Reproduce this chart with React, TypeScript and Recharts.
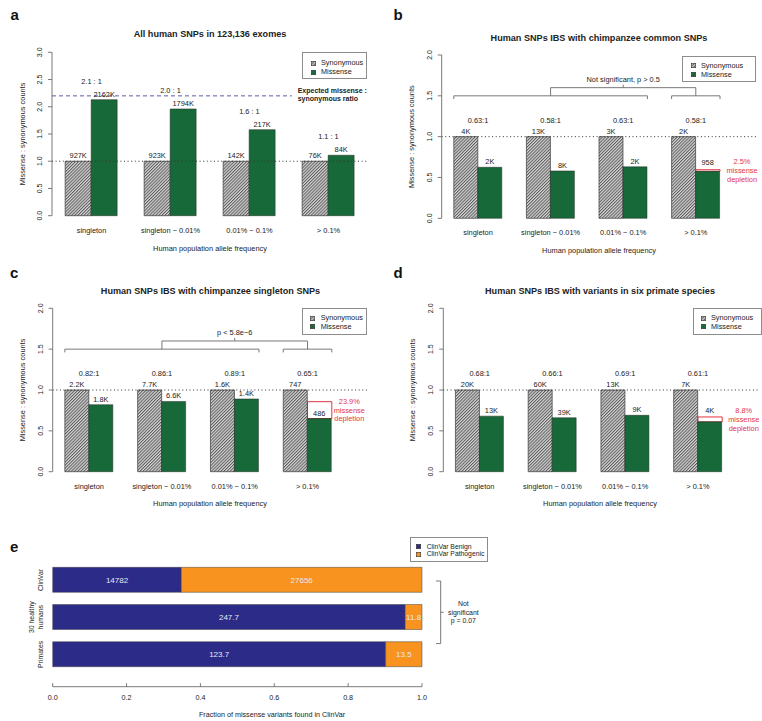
import React from 'react';
import {
  BarChart,
  Bar,
  XAxis,
  YAxis,
  ReferenceLine,
  ReferenceDot,
  ReferenceArea,
  LabelList,
  Legend,
} from 'recharts';

const FONT = '"Liberation Sans", Arial, Helvetica, sans-serif';
const INK = '#222';
const AXIS = '#6a6a6a';
const GREEN = '#18693a';
const RED = '#e3343f';
const NAVY = '#2c2b88';
const ORANGE = '#f7931e';
const HATCH = 'url(#synHatch)';

// shared categories for panels a-d
const freqBins = ['singleton', 'singleton ~ 0.01%', '0.01% ~ 0.1%', '> 0.1%'];
const synNorm = [1, 1, 1, 1];

// a: all human SNPs
const aMissense = [2.13, 1.96, 1.58, 1.11];
const aSynCounts = ['927K', '923K', '142K', '76K'];
const aMisCounts = ['2162K', '1794K', '217K', '84K'];
const aRatios = ['2.1 : 1', '2.0 : 1', '1.6 : 1', '1.1 : 1'];
const aExpected = 2.2;

// b: IBS with chimpanzee common SNPs
const bMissense = [0.625, 0.58, 0.63, 0.575];
const bSynCounts = ['4K', '13K', '3K', '2K'];
const bMisCounts = ['2K', '8K', '2K', '958'];
const bRatios = ['0.63:1', '0.58:1', '0.63:1', '0.58:1'];
const bExpectedTop = 0.595;
const bDepletion = ['2.5%', 'missense', 'depletion'];
const bTest = 'Not significant, p > 0.5';

// c: IBS with chimpanzee singleton SNPs
const cMissense = [0.82, 0.86, 0.89, 0.65];
const cSynCounts = ['2.2K', '7.7K', '1.6K', '747'];
const cMisCounts = ['1.8K', '6.6K', '1.4K', '486'];
const cRatios = ['0.82:1', '0.86:1', '0.89:1', '0.65:1'];
const cExpectedTop = 0.857;
const cDepletion = ['23.9%', 'missense', 'depletion'];
const cTest = 'p < 5.8e\u22126';

// d: IBS with variants in six primate species
const dMissense = [0.68, 0.66, 0.69, 0.61];
const dSynCounts = ['20K', '60K', '13K', '7K'];
const dMisCounts = ['13K', '39K', '9K', '4K'];
const dRatios = ['0.68:1', '0.66:1', '0.69:1', '0.61:1'];
const dExpectedTop = 0.67;
const dDepletion = ['8.8%', 'missense', 'depletion'];

// e: ClinVar fractions
const eGroups = ['ClinVar', '30 healthy\nhumans', 'Primates'];
const eBenign = [14782, 247.7, 123.7];
const ePathogenic = [27656, 11.8, 13.5];
const eBenignLabels = ['14782', '247.7', '123.7'];
const ePathLabels = ['27656', '11.8', '13.5'];
const eTicks = [0, 0.2, 0.4, 0.6, 0.8, 1];
const eTest = ['Not', 'significant', 'p = 0.07'];

const textAt =
  (lines: string[], o: { size: number; color?: string; weight?: any; anchor?: any; lh?: number }) =>
  (p: any) => {
    const lh = o.lh ?? o.size * 1.15;
    const first = -((lines.length - 1) * lh) / 2;
    return (
      <text
        x={p.cx}
        y={p.cy}
        textAnchor={o.anchor ?? 'middle'}
        fontFamily={FONT}
        fontSize={o.size}
        fontWeight={o.weight ?? 'normal'}
        fill={o.color ?? INK}
      >
        {lines.map((l, i) => (
          <tspan key={i} x={p.cx} y={p.cy + first + i * lh} dy="0.35em">
            {l}
          </tspan>
        ))}
      </text>
    );
  };

const boxOf = (p: any) => {
  const vb = p.viewBox || {};
  return {
    x: p.x ?? vb.x,
    y: p.y ?? vb.y,
    w: p.width ?? vb.width,
    h: p.height ?? vb.height,
  };
};

// value label above a bar; the last group may be lifted over the depletion box
const topLabel =
  (lastLift = 0) =>
  (p: any) => {
    const b = boxOf(p);
    const lift = p.index === 3 ? lastLift : 0;
    return (
      <text x={b.x + b.w / 2} y={b.y - 3 - lift} textAnchor="middle" fontFamily={FONT} fontSize={7.4} fill={INK}>
        {p.value}
      </text>
    );
  };

const centerLabel = (p: any) => {
  const b = boxOf(p);
  return (
    <text
      x={b.x + b.w / 2}
      y={b.y + b.h / 2}
      dy="0.35em"
      textAnchor="middle"
      fontFamily={FONT}
      fontSize={8}
      fill="#e9e9f6"
    >
      {p.value}
    </text>
  );
};

const CatTick = (p: any) => (
  <text x={p.x} y={p.y + 14.3} dy="0.35em" textAnchor="middle" fontFamily={FONT} fontSize={7.4} fill={INK}>
    {p.payload.value}
  </text>
);

const YTick = (p: any) => (
  <text
    transform={`translate(${p.x},${p.y}) rotate(-90)`}
    dy="0.35em"
    textAnchor="middle"
    fontFamily={FONT}
    fontSize={7}
    fill={INK}
  >
    {Number(p.payload.value).toFixed(1)}
  </text>
);

const ETick = (p: any) => (
  <g>
    <line x1={p.x} x2={p.x} y1={p.y} y2={p.y - 3.5} stroke={AXIS} strokeWidth={0.9} />
    <text x={p.x} y={p.y + 11} dy="0.35em" textAnchor="middle" fontFamily={FONT} fontSize={7.2} fill={INK}>
      {Number(p.payload.value).toFixed(1)}
    </text>
  </g>
);

const EYTick = (p: any) => {
  const lines = String(p.payload.value).split('\n');
  return (
    <g>
      {lines.map((l, i) => (
        <text
          key={i}
          transform={`translate(${p.x - (lines.length - 1 - i) * 9},${p.y}) rotate(-90)`}
          dy="0.35em"
          textAnchor="middle"
          fontFamily={FONT}
          fontSize={6.9}
          fill={INK}
        >
          {l}
        </text>
      ))}
    </g>
  );
};

const seg = (k: string, x1: number, y1: number, x2: number, y2: number, xId: any = 'n', yId: any = 0) => (
  <ReferenceLine
    key={k}
    xAxisId={xId}
    yAxisId={yId}
    segment={[
      { x: x1, y: y1 },
      { x: x2, y: y2 },
    ]}
    stroke={AXIS}
    strokeWidth={0.9}
    ifOverflow="visible"
  />
);

// horizontal bracket with both ends dropping down
const bracket = (k: string, x1: number, x2: number, y: number, drop: number) => [
  seg(k + 'l', x1, y - drop, x1, y),
  seg(k + 'm', x1, y, x2, y),
  seg(k + 'r', x2, y, x2, y - drop),
];

const groupLeft = (i: number) => 1 + 3 * i;
const groupRight = (i: number) => 3 + 3 * i;
const groupMid = (i: number) => 2 + 3 * i;

type Box = { x: number; y: number; w: number; h: number; r1: number; gap: number; sw: number; tx: number; fs: number };

const legendEl = (box: Box, items: { label: string; fill: string }[]) => (
  <Legend
    layout="horizontal"
    verticalAlign="middle"
    align="center"
    wrapperStyle={{ left: box.x, top: box.y, width: box.w, height: box.h, margin: 0 }}
    content={() => (
      <div
        style={{
          position: 'relative',
          width: box.w,
          height: box.h,
          boxSizing: 'border-box',
          border: '1px solid #8c8c8c',
          background: '#fff',
          fontFamily: FONT,
          fontSize: box.fs,
          color: INK,
        }}
      >
        {items.map((it, i) => (
          <div
            key={it.label}
            style={{
              position: 'absolute',
              left: box.sw - 1,
              top: box.r1 + i * box.gap - 6,
              height: 12,
              display: 'flex',
              alignItems: 'center',
              whiteSpace: 'nowrap',
              lineHeight: '12px',
            }}
          >
            <svg width={5} height={5} style={{ display: 'block', marginRight: box.tx - box.sw - 5 }}>
              <rect x={0.3} y={0.3} width={4.4} height={4.4} fill={it.fill} stroke="#333" strokeWidth={0.6} />
            </svg>
            <span>{it.label}</span>
          </div>
        ))}
      </div>
    )}
  />
);

type PanelCfg = {
  left: number;
  top: number;
  width: number;
  height: number;
  plotLeft: number;
  plotTop: number;
  plotBottom: number;
  unit: number;
  nUnits: number;
  yMax: number;
  yTicks: number[];
  missense: number[];
  synLabels: string[];
  misLabels: string[];
  ratios: string[];
  ratioY: (i: number) => number;
  legend: Box;
  lastLift?: number;
  extra?: React.ReactNode;
};

function FreqPanel(cfg: PanelCfg) {
  const plotW = cfg.nUnits * cfg.unit;
  const rows = freqBins.map((cat, i) => ({
    cat,
    syn: synNorm[i],
    mis: cfg.missense[i],
    synLabel: cfg.synLabels[i],
    misLabel: cfg.misLabels[i],
  }));
  return (
    <div style={{ position: 'absolute', left: cfg.left, top: cfg.top, width: cfg.width, height: cfg.height }}>
      <BarChart
        width={cfg.width}
        height={cfg.height}
        data={rows}
        margin={{ top: cfg.plotTop, right: cfg.width - cfg.plotLeft - plotW, bottom: 0, left: 0 }}
        barCategoryGap="16.667%"
        barGap={0}
      >
        <XAxis
          dataKey="cat"
          height={cfg.height - cfg.plotBottom}
          axisLine={false}
          tickLine={false}
          tickSize={0}
          tickMargin={0}
          interval={0}
          padding={{ left: 0, right: plotW - 12 * cfg.unit }}
          tick={<CatTick />}
        />
        {/* hidden numeric axis in bar units, used to place annotations */}
        <XAxis
          xAxisId="n"
          dataKey="syn"
          type="number"
          domain={[0.5, 0.5 + cfg.nUnits]}
          hide
          allowDataOverflow
        />
        <YAxis
          width={cfg.plotLeft}
          domain={[0, cfg.yMax]}
          ticks={cfg.yTicks}
          interval={0}
          axisLine={{ stroke: AXIS, strokeWidth: 0.9 }}
          tickLine={{ stroke: AXIS, strokeWidth: 0.9 }}
          tickSize={4}
          tickMargin={8.5}
          tick={<YTick />}
        />
        <ReferenceLine xAxisId="n" y={1} stroke="#333" strokeWidth={1} strokeDasharray="1 2.6" />
        <Bar dataKey="syn" fill={HATCH} stroke="#3a3a3a" strokeWidth={0.7} isAnimationActive={false}>
          <LabelList dataKey="synLabel" content={topLabel()} />
        </Bar>
        <Bar dataKey="mis" fill={GREEN} stroke="#1f2a22" strokeWidth={0.5} isAnimationActive={false}>
          <LabelList dataKey="misLabel" content={topLabel(cfg.lastLift ?? 0)} />
        </Bar>
        {cfg.ratios.map((r, i) => (
          <ReferenceDot
            key={'ratio' + i}
            xAxisId="n"
            x={groupMid(i)}
            y={cfg.ratioY(i)}
            r={0}
            ifOverflow="visible"
            shape={textAt([r], { size: 7.4 })}
          />
        ))}
        {cfg.extra}
        {legendEl(cfg.legend, [
          { label: 'Synonymous', fill: HATCH },
          { label: 'Missense', fill: GREEN },
        ])}
      </BarChart>
    </div>
  );
}

// significance brackets shared by b and c
const testBrackets = (label: string) => [
  ...bracket('lo1', groupLeft(0), groupRight(2), 1.5, 0.04),
  ...bracket('lo2', groupLeft(3), groupRight(3), 1.5, 0.04),
  ...bracket('up', (groupLeft(0) + groupRight(2)) / 2, (groupLeft(3) + groupRight(3)) / 2, 1.6, 0.1),
  seg('upc', 8, 1.6, 8, 1.637),
  <ReferenceDot key="testTxt" xAxisId="n" x={8} y={1.7} r={0} ifOverflow="visible" shape={textAt([label], { size: 7.4 })} />,
];

const depletion = (mis: number, top: number, lines: string[], tx: number) => [
  <ReferenceArea
    key="depBox"
    xAxisId="n"
    x1={groupMid(3)}
    x2={groupRight(3)}
    y1={mis}
    y2={top}
    fill="#ffffff"
    fillOpacity={0}
    stroke={RED}
    strokeWidth={1}
    ifOverflow="visible"
  />,
  <ReferenceDot
    key="depTxt"
    xAxisId="n"
    x={tx}
    y={(mis + top) / 2}
    r={0}
    ifOverflow="visible"
    shape={textAt(lines, { size: 7.4, color: RED, lh: 8.7 })}
  />,
];

const panelA: PanelCfg = {
  left: 0,
  top: 0,
  width: 381,
  height: 290,
  plotLeft: 52,
  plotTop: 52.3,
  plotBottom: 215.7,
  unit: 26.33,
  nUnits: 12,
  yMax: 3,
  yTicks: [0, 0.5, 1, 1.5, 2, 2.5, 3],
  missense: aMissense,
  synLabels: aSynCounts,
  misLabels: aMisCounts,
  ratios: aRatios,
  ratioY: (i) => aMissense[i] + 0.34,
  legend: { x: 302, y: 52, w: 65, h: 27, r1: 10, gap: 9, sw: 9, tx: 19, fs: 7.3 },
  extra: [
    <ReferenceLine
      key="exp"
      xAxisId="n"
      segment={[
        { x: 0.5, y: aExpected },
        { x: 9.61, y: aExpected },
      ]}
      stroke="#5b5ba3"
      strokeWidth={1}
      strokeDasharray="4 3"
    />,
    <ReferenceDot
      key="expTxt"
      xAxisId="n"
      x={9.83}
      y={aExpected + 0.02}
      r={0}
      ifOverflow="visible"
      shape={textAt(['Expected missense :', 'synonymous ratio'], { size: 7, weight: 'bold', anchor: 'start', lh: 8.3 })}
    />,
  ],
};

const panelB: PanelCfg = {
  left: 381,
  top: 0,
  width: 381,
  height: 290,
  plotLeft: 60.7,
  plotTop: 55,
  plotBottom: 218.3,
  unit: 24.2,
  nUnits: 13,
  yMax: 2,
  yTicks: [0, 0.5, 1, 1.5, 2],
  missense: bMissense,
  synLabels: bSynCounts,
  misLabels: bMisCounts,
  ratios: bRatios,
  ratioY: () => 1.2,
  legend: { x: 301, y: 56, w: 74, h: 25.7, r1: 8.5, gap: 9, sw: 9, tx: 19, fs: 7.3 },
  lastLift: 3,
  extra: [...testBrackets(bTest), ...depletion(bMissense[3], bExpectedTop, bDepletion, 12.91)],
};

const panelC: PanelCfg = {
  left: 0,
  top: 290,
  width: 381,
  height: 290,
  plotLeft: 52.7,
  plotTop: 18.3,
  plotBottom: 181.7,
  unit: 24.27,
  nUnits: 13,
  yMax: 2,
  yTicks: [0, 0.5, 1, 1.5, 2],
  missense: cMissense,
  synLabels: cSynCounts,
  misLabels: cMisCounts,
  ratios: cRatios,
  ratioY: () => 1.2,
  legend: { x: 301.7, y: 18.3, w: 65.6, h: 26.7, r1: 9, gap: 8.7, sw: 8.3, tx: 19, fs: 7.3 },
  extra: [...testBrackets(cTest), ...depletion(cMissense[3], cExpectedTop, cDepletion, 12.72)],
};

const panelD: PanelCfg = {
  left: 381,
  top: 290,
  width: 381,
  height: 290,
  plotLeft: 62.3,
  plotTop: 18.3,
  plotBottom: 181.7,
  unit: 24.25,
  nUnits: 13,
  yMax: 2,
  yTicks: [0, 0.5, 1, 1.5, 2],
  missense: dMissense,
  synLabels: dSynCounts,
  misLabels: dMisCounts,
  ratios: dRatios,
  ratioY: () => 1.2,
  legend: { x: 311.7, y: 18.3, w: 69.3, h: 26.7, r1: 9, gap: 8.7, sw: 8.3, tx: 18.3, fs: 7.3 },
  lastLift: 5.5,
  extra: depletion(dMissense[3], dExpectedTop, dDepletion, 12.89),
};

// panel e geometry
const eSlot = 37.2;
const ePadBottom = 13.7;
const eGapFrac = 0.159;

function ClinVarPanel() {
  const rows = eGroups.map((g, i) => {
    const total = eBenign[i] + ePathogenic[i];
    return {
      group: g,
      benign: eBenign[i] / total,
      path: ePathogenic[i] / total,
      bLab: eBenignLabels[i],
      pLab: ePathLabels[i],
    };
  });
  const bx = 1.0506;
  const yTop = 1 + eGapFrac;
  const yBot = 3 - eGapFrac;
  return (
    <div style={{ position: 'absolute', left: 0, top: 530, width: 500, height: 191 }}>
      <BarChart
        layout="vertical"
        width={500}
        height={191}
        data={rows}
        margin={{ top: 31.4, right: 78, bottom: 0, left: 0 }}
        barCategoryGap="15.9%"
      >
        <XAxis
          type="number"
          domain={[0, 1]}
          ticks={eTicks}
          interval={0}
          height={34.3}
          axisLine={{ stroke: AXIS, strokeWidth: 0.9 }}
          tickLine={false}
          tickSize={0}
          tickMargin={0}
          tick={<ETick />}
        />
        <YAxis
          type="category"
          dataKey="group"
          width={52.7}
          padding={{ top: 0, bottom: ePadBottom }}
          axisLine={false}
          tickLine={false}
          tickSize={0}
          tickMargin={12}
          interval={0}
          tick={<EYTick />}
        />
        {/* hidden numeric axis in bar slots, used for the bracket */}
        <YAxis
          yAxisId="n"
          dataKey="benign"
          type="number"
          domain={[0, 3 + ePadBottom / eSlot]}
          reversed
          hide
          allowDataOverflow
        />
        <Bar dataKey="benign" stackId="s" fill={NAVY} stroke="#444" strokeWidth={0.5} isAnimationActive={false}>
          <LabelList dataKey="bLab" content={centerLabel} />
        </Bar>
        <Bar dataKey="path" stackId="s" fill={ORANGE} stroke="#444" strokeWidth={0.5} isAnimationActive={false}>
          <LabelList dataKey="pLab" content={centerLabel} />
        </Bar>
        {seg('eb1', bx - 0.0126, yTop, bx, yTop, 0, 'n')}
        {seg('eb2', bx, yTop, bx, yBot, 0, 'n')}
        {seg('eb3', bx, yBot, bx - 0.0126, yBot, 0, 'n')}
        {seg('eb4', bx, 2, bx + 0.008, 2, 0, 'n')}
        <ReferenceDot
          xAxisId={0}
          yAxisId="n"
          x={1.112}
          y={2}
          r={0}
          ifOverflow="visible"
          shape={textAt(eTest, { size: 6.9, lh: 8.3 })}
        />
        {legendEl({ x: 410.3, y: 6.7, w: 78, h: 25, r1: 9, gap: 7.6, sw: 6, tx: 16.4, fs: 6.8 }, [
          { label: 'ClinVar Benign', fill: NAVY },
          { label: 'ClinVar Pathogenic', fill: ORANGE },
        ])}
      </BarChart>
    </div>
  );
}

const T = (p: { x: number; y: number; s: number; bold?: boolean; rot?: boolean; children: React.ReactNode }) => (
  <text
    transform={`translate(${p.x},${p.y})${p.rot ? ' rotate(-90)' : ''}`}
    dy="0.35em"
    textAnchor="middle"
    fontFamily={FONT}
    fontSize={p.s}
    fontWeight={p.bold ? 'bold' : 'normal'}
    fill={INK}
  >
    {p.children}
  </text>
);

function Overlay() {
  const letter = (ch: string, x: number, y: number) => (
    <text x={x} y={y} fontFamily={FONT} fontSize={15} fontWeight="bold" fill="#111">
      {ch}
    </text>
  );
  return (
    <svg
      width={762}
      height={721}
      style={{ position: 'absolute', left: 0, top: 0, pointerEvents: 'none' }}
    >
      {letter('a', 10.5, 19.5)}
      {letter('b', 393.5, 19.5)}
      {letter('c', 10, 277.5)}
      {letter('d', 393.5, 277.5)}
      {letter('e', 10, 551.5)}
      <T x={210} y={34.3} s={9.1} bold>All human SNPs in 123,136 exomes</T>
      <T x={599} y={37.7} s={9.1} bold>Human SNPs IBS with chimpanzee common SNPs</T>
      <T x={210.5} y={291} s={9.1} bold>Human SNPs IBS with chimpanzee singleton SNPs</T>
      <T x={600} y={291} s={9.1} bold>Human SNPs IBS with variants in six primate species</T>
      <T x={22.7} y={134} s={7.4} rot>Missense : synonymous counts</T>
      <T x={411} y={136.7} s={7.4} rot>Missense : synonymous counts</T>
      <T x={22.7} y={390} s={7.4} rot>Missense : synonymous counts</T>
      <T x={412.7} y={390} s={7.4} rot>Missense : synonymous counts</T>
      <T x={210} y={248} s={7.4}>Human population allele frequency</T>
      <T x={599} y={250.7} s={7.4}>Human population allele frequency</T>
      <T x={210} y={503.3} s={7.4}>Human population allele frequency</T>
      <T x={600} y={503.3} s={7.4}>Human population allele frequency</T>
      <T x={272} y={714} s={7.2}>Fraction of missense variants found in ClinVar</T>
    </svg>
  );
}

export default function App() {
  return (
    <div
      style={{
        position: 'absolute',
        left: 0,
        top: 0,
        width: 762,
        height: 721,
        background: '#fff',
        overflow: 'hidden',
      }}
    >
      <svg width={0} height={0} style={{ position: 'absolute' }}>
        <defs>
          <pattern id="synHatch" patternUnits="userSpaceOnUse" width={2.2} height={2.2} patternTransform="rotate(45)">
            <rect width={2.2} height={2.2} fill="#d6d6d6" />
            <line x1={0.5} y1={0} x2={0.5} y2={2.2} stroke="#5c5c5c" strokeWidth={1} />
          </pattern>
        </defs>
      </svg>
      <FreqPanel {...panelA} />
      <FreqPanel {...panelB} />
      <FreqPanel {...panelC} />
      <FreqPanel {...panelD} />
      <ClinVarPanel />
      <Overlay />
    </div>
  );
}
